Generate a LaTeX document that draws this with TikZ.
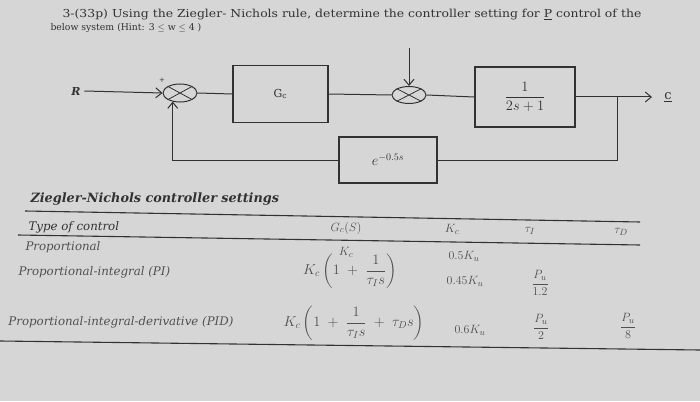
\documentclass[tikz,border=0pt]{standalone}
\usepackage{amsmath}
\usepackage{graphicx}
\usepackage{fontspec}
\setmainfont{DejaVu Serif}
\usetikzlibrary{shapes.geometric,arrows.meta}
\definecolor{bg}{RGB}{214,214,214}
\definecolor{ink}{RGB}{50,50,50}
\definecolor{soft}{RGB}{80,80,80}
\begin{document}
\begin{tikzpicture}[x=1pt,y=-1pt,
  line width=1pt, draw=ink,
  blk/.style={draw=ink, line width=1.1pt, rectangle, inner sep=0pt, text=ink, font=\fontsize{11}{12}\selectfont},
  sumj/.style={draw=ink, line width=1pt, ellipse, minimum width=34pt, minimum height=18pt, inner sep=0pt},
  arr/.style={-{Straight Barb[length=6pt,width=10pt]}},
  ttl/.style={anchor=west, inner sep=0pt, text=ink, font=\fontsize{11}{12}\selectfont},
  tab/.style={inner sep=0pt, text=soft, font=\itshape\fontsize{11.8}{13}\selectfont},
  tmath/.style={inner sep=0pt, text=soft, font=\fontsize{12.5}{14}\selectfont},
  fmath/.style={inner sep=0pt, text=soft, font=\fontsize{14.5}{16}\selectfont},
  rule/.style={draw=ink, line width=1.1pt}]
\useasboundingbox[fill=bg] (0,0) rectangle (700,401);
% title
\node[ttl] (t1) at (62,15) {\scalebox{1.13}[1]{3-(33p) Using the Ziegler- Nichols rule, determine the controller setting for \underline{P} control of the}};
\node[ttl, font=\fontsize{9.3}{11}\selectfont] (t2) at (50,28) {below system (Hint: 3 $\leq$ w $\leq$ 4 )};
% block diagram
\node[text=ink, font=\bfseries\itshape\fontsize{11}{12}\selectfont] (r) at (76,91) {R};
\node[sumj] (s1) at (180,93) {};
\draw[ink, line width=0.8pt] (s1.north east) -- (s1.south west) (s1.north west) -- (s1.south east);
\node[text=ink, font=\fontsize{7}{8}\selectfont, inner sep=0pt] (plus) at (162,80) {+};
\node[blk, minimum width=95pt, minimum height=57pt] (gc) at (280.5,94) {G$_{\mathrm{c}}$};
\node[sumj, minimum height=17pt] (s2) at (409,95) {};
\draw[ink, line width=0.8pt] (s2.north east) -- (s2.south west) (s2.north west) -- (s2.south east);
\node[blk, minimum width=100pt, minimum height=60pt, font=\fontsize{13.5}{15}\selectfont] (p) at (525,97) {$\dfrac{1}{2s+1}$};
\node[blk, minimum width=98pt, minimum height=46pt, font=\fontsize{14}{15}\selectfont] (d) at (388,160) {$e^{-0.5s}$};
\node[text=ink, font=\fontsize{13}{14}\selectfont, inner sep=1pt] (c) at (668,97) {\underline{c}};
\coordinate (in2) at (409,48);
\coordinate (out) at (652,97);
\coordinate (br) at (617,97);
\draw[arr] (r.east) -- (s1.west);
\draw (s1.east) -- (gc.west);
\draw (gc.east) -- (s2.west);
\draw[arr] (in2) -- (s2.north);
\draw (s2.east) -- (p.west);
\draw[arr] (p.east) -- (out);
\draw (br) |- (d.east);
\draw[arr] (d.west) -| (s1.-130);
% table
\node[anchor=west, inner sep=0pt, text=ink, font=\bfseries\itshape\fontsize{12.8}{14}\selectfont] (zn) at (30,199) {Ziegler-Nichols controller settings};
\draw[rule] (25,211) -- (640,222);
\draw[rule] (18,235) -- (640,245);
\draw[rule] (0,341) -- (700,350);
\node[tab, anchor=west, text=ink] (h1) at (28,227) {Type of control};
\node[tmath] (h2) at (346,228) {$G_c(S)$};
\node[tmath] (h3) at (452,229) {$K_c$};
\node[tmath] (h4) at (530,231) {$\tau_I$};
\node[tmath] (h5) at (621,232) {$\tau_D$};
\node[tab, anchor=west] (r1) at (25,247) {Proportional};
\node[tmath] (r1a) at (346,252) {$K_c$};
\node[tmath] (r1b) at (464,256) {$0.5K_u$};
\node[tab, anchor=west] (r2) at (18,272) {Proportional-integral (PI)};
\node[fmath] (r2a) at (350,271) {$K_c\left(1\;+\;\dfrac{1}{\tau_I s}\right)$};
\node[tmath] (r2b) at (465,281) {$0.45K_u$};
\node[tmath] (r2c) at (540,283) {$\dfrac{P_u}{1.2}$};
\node[tab, anchor=west] (r3) at (8,322) {Proportional-integral-derivative (PID)};
\node[fmath] (r3a) at (354,323) {$K_c\left(1\;+\;\dfrac{1}{\tau_I s}\;+\;\tau_D s\right)$};
\node[tmath] (r3b) at (470,330) {$0.6K_u$};
\node[tmath] (r3c) at (541,327) {$\dfrac{P_u}{2}$};
\node[tmath] (r3d) at (628,326) {$\dfrac{P_u}{8}$};
\end{tikzpicture}
\end{document}
